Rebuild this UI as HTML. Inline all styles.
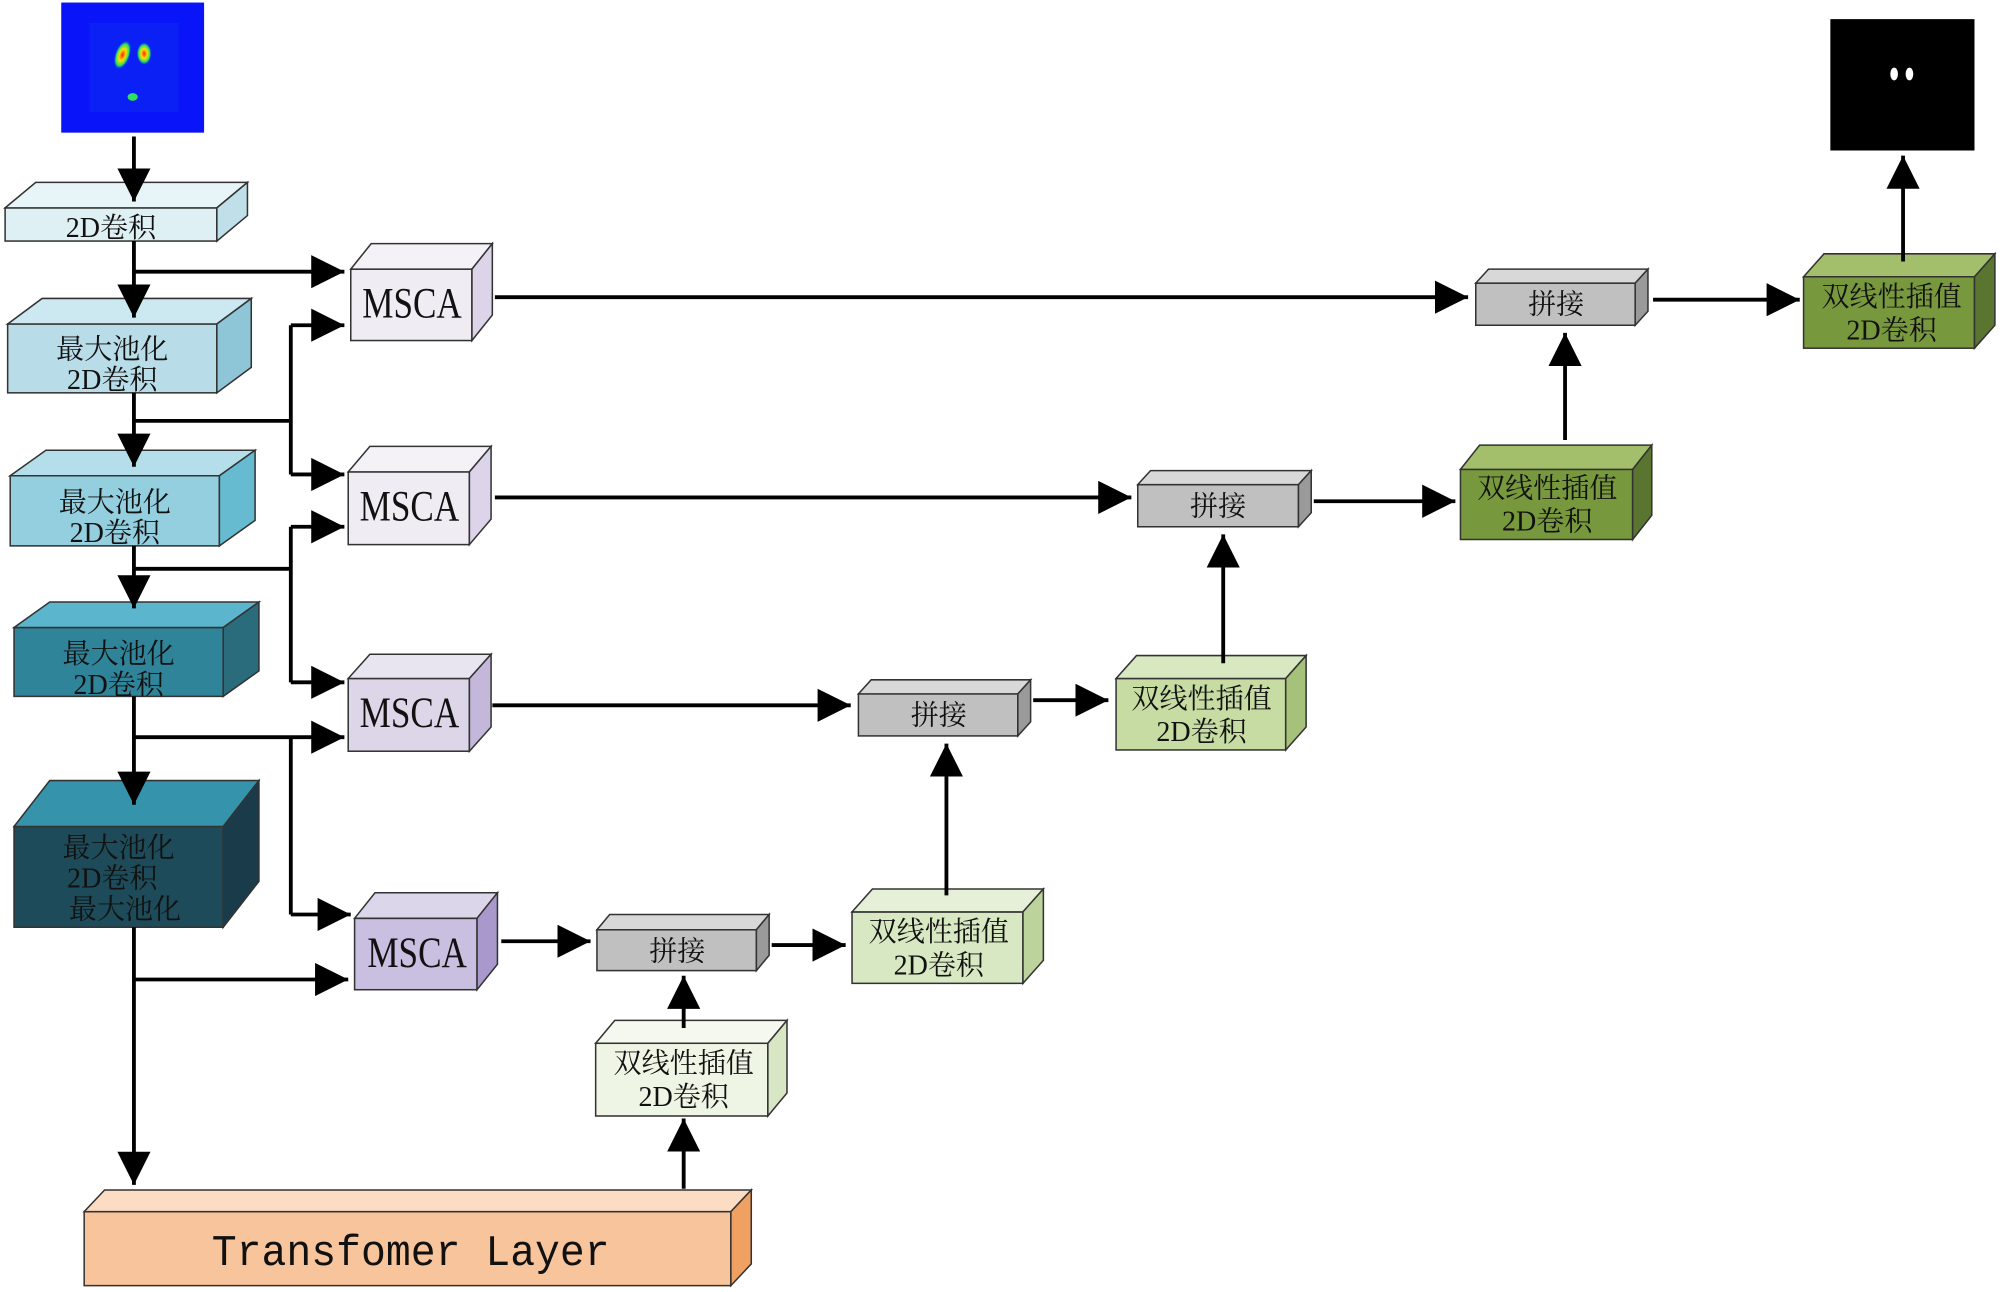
<!DOCTYPE html>
<html><head><meta charset="utf-8"><style>
html,body{margin:0;padding:0;background:#fff}
svg{display:block}
.cn{font-family:"Liberation Serif","Noto Serif CJK SC",serif;font-size:22px;fill:#111;text-anchor:middle}
.ms{font-family:"Liberation Serif",serif;font-size:34px;fill:#111;text-anchor:middle}
.b{stroke:#333;stroke-width:1.2}
.l{stroke:#000;stroke-width:3;fill:none}
</style></head><body>
<svg width="2000" height="1292" viewBox="0 0 1568 1013" preserveAspectRatio="none" xmlns="http://www.w3.org/2000/svg">
<defs>
<marker id="a" markerUnits="userSpaceOnUse" markerWidth="26" markerHeight="26" viewBox="0 0 24 24" refX="24" refY="12" orient="auto"><path d="M0,0 L24,12 L0,24 Z" fill="#000"/></marker>
<radialGradient id="g" cx="50%" cy="50%" r="50%"><stop offset="0" stop-color="#ff2000"/><stop offset="0.4" stop-color="#ffe000"/><stop offset="0.75" stop-color="#20e060"/><stop offset="1" stop-color="#1030ff" stop-opacity="0"/></radialGradient>
</defs>
<rect width="1568" height="1013" fill="#fff"/>
<!-- input image -->
<rect x="48" y="2" width="112" height="102" fill="#0a14f8"/>
<rect x="70" y="18" width="70" height="70" fill="#0b20f4"/>
<ellipse cx="96" cy="43" rx="6" ry="12" fill="url(#g)" transform="rotate(20 96 43)"/>
<ellipse cx="113" cy="42" rx="6" ry="9" fill="url(#g)"/>
<ellipse cx="104" cy="76" rx="4" ry="3" fill="#30e060"/>
<!-- output -->
<rect x="1435" y="15" width="113" height="103" fill="#000"/>
<ellipse cx="1485" cy="58" rx="3" ry="5" fill="#fff"/>
<ellipse cx="1497" cy="58" rx="3" ry="5" fill="#fff"/>

<!-- encoder boxes -->
<g class="b">
<rect x="4" y="163" width="166" height="26" fill="#dff0f4"/>
<polygon points="4,163 28,143 194,143 170,163" fill="#e8f5f8"/>
<polygon points="170,163 194,143 194,169 170,189" fill="#bfe0e8"/>

<rect x="6" y="254" width="164" height="54" fill="#b8dce8"/>
<polygon points="6,254 33,234 197,234 170,254" fill="#cce8f0"/>
<polygon points="170,254 197,234 197,288 170,308" fill="#8ec6d8"/>

<rect x="8" y="373" width="164" height="55" fill="#94cfe0"/>
<polygon points="8,373 36,353 200,353 172,373" fill="#b4dfea"/>
<polygon points="172,373 200,353 200,408 172,428" fill="#66bbd0"/>

<rect x="11" y="492" width="164" height="54" fill="#2f8499"/>
<polygon points="11,492 39,472 203,472 175,492" fill="#5bb5cc"/>
<polygon points="175,492 203,472 203,526 175,546" fill="#2a6c7c"/>

<rect x="11" y="648" width="164" height="79" fill="#1e4b5a"/>
<polygon points="11,648 39,612 203,612 175,648" fill="#3594ab"/>
<polygon points="175,648 203,612 203,691 175,727" fill="#1a3c4a"/>

<!-- MSCA -->
<rect x="275" y="211" width="95" height="56" fill="#efecf3"/>
<polygon points="275,211 291,191 386,191 370,211" fill="#f4f2f7"/>
<polygon points="370,211 386,191 386,247 370,267" fill="#dcd4e8"/>

<rect x="273" y="370" width="95" height="57" fill="#efecf3"/>
<polygon points="273,370 290,350 385,350 368,370" fill="#f4f2f7"/>
<polygon points="368,370 385,350 385,407 368,427" fill="#dcd4e8"/>

<rect x="273" y="532" width="95" height="57" fill="#ddd6e8"/>
<polygon points="273,532 290,513 385,513 368,532" fill="#e8e4f0"/>
<polygon points="368,532 385,513 385,570 368,589" fill="#c3b8da"/>

<rect x="278" y="720" width="96" height="56" fill="#c9bfe0"/>
<polygon points="278,720 294,700 390,700 374,720" fill="#dcd6ea"/>
<polygon points="374,720 390,700 390,756 374,776" fill="#a898cc"/>

<!-- concat -->
<rect x="468" y="729" width="125" height="32" fill="#c0c0c0"/>
<polygon points="468,729 478,717 603,717 593,729" fill="#d8d8d8"/>
<polygon points="593,729 603,717 603,749 593,761" fill="#9a9a9a"/>

<rect x="673" y="544" width="125" height="33" fill="#c0c0c0"/>
<polygon points="673,544 683,533 808,533 798,544" fill="#d8d8d8"/>
<polygon points="798,544 808,533 808,566 798,577" fill="#9a9a9a"/>

<rect x="892" y="380" width="126" height="33" fill="#c0c0c0"/>
<polygon points="892,380 902,369 1028,369 1018,380" fill="#d8d8d8"/>
<polygon points="1018,380 1028,369 1028,402 1018,413" fill="#9a9a9a"/>

<rect x="1157" y="222" width="125" height="33" fill="#c0c0c0"/>
<polygon points="1157,222 1167,211 1292,211 1282,222" fill="#d8d8d8"/>
<polygon points="1282,222 1292,211 1292,244 1282,255" fill="#9a9a9a"/>

<!-- interp -->
<rect x="467" y="818" width="135" height="57" fill="#eef5e5"/>
<polygon points="467,818 482,800 617,800 602,818" fill="#f4f8ee"/>
<polygon points="602,818 617,800 617,857 602,875" fill="#d8e6c4"/>

<rect x="668" y="715" width="134" height="56" fill="#d8e8c2"/>
<polygon points="668,715 684,697 818,697 802,715" fill="#e6f0d8"/>
<polygon points="802,715 818,697 818,753 802,771" fill="#bcd49c"/>

<rect x="875" y="532" width="133" height="56" fill="#c6dca2"/>
<polygon points="875,532 891,514 1024,514 1008,532" fill="#d8e8c0"/>
<polygon points="1008,532 1024,514 1024,570 1008,588" fill="#a6c27a"/>

<rect x="1145" y="368" width="135" height="55" fill="#78983e"/>
<polygon points="1145,368 1160,349 1295,349 1280,368" fill="#a4bf6c"/>
<polygon points="1280,368 1295,349 1295,404 1280,423" fill="#5a7530"/>

<rect x="1414" y="217" width="134" height="56" fill="#78983e"/>
<polygon points="1414,217 1430,199 1564,199 1548,217" fill="#a4bf6c"/>
<polygon points="1548,217 1564,199 1564,255 1548,273" fill="#5a7530"/>

<!-- transformer -->
<rect x="66" y="950" width="507" height="58" fill="#f8c49c"/>
<polygon points="66,950 82,933 589,933 573,950" fill="#fcdcc2"/>
<polygon points="573,950 589,933 589,991 573,1008" fill="#f0a060"/>
</g>

<!-- connectors -->
<g class="l">
<line x1="105" y1="107" x2="105" y2="158" marker-end="url(#a)"/>
<line x1="105" y1="189" x2="105" y2="249" marker-end="url(#a)"/>
<line x1="105" y1="213" x2="270" y2="213" marker-end="url(#a)"/>
<line x1="105" y1="308" x2="105" y2="366" marker-end="url(#a)"/>
<polyline points="105,330 228,330"/>
<polyline points="228,255 228,372"/>
<line x1="228" y1="255" x2="270" y2="255" marker-end="url(#a)"/>
<line x1="228" y1="372" x2="270" y2="372" marker-end="url(#a)"/>
<line x1="105" y1="428" x2="105" y2="477" marker-end="url(#a)"/>
<polyline points="105,446 228,446"/>
<polyline points="228,413 228,535"/>
<line x1="228" y1="413" x2="270" y2="413" marker-end="url(#a)"/>
<line x1="228" y1="535" x2="270" y2="535" marker-end="url(#a)"/>
<line x1="105" y1="546" x2="105" y2="631" marker-end="url(#a)"/>
<line x1="105" y1="578" x2="270" y2="578" marker-end="url(#a)"/>
<polyline points="228,578 228,717"/>
<line x1="228" y1="717" x2="275" y2="717" marker-end="url(#a)"/>
<line x1="105" y1="727" x2="105" y2="929" marker-end="url(#a)"/>
<line x1="105" y1="768" x2="273" y2="768" marker-end="url(#a)"/>
<line x1="388" y1="233" x2="1151" y2="233" marker-end="url(#a)"/>
<line x1="388" y1="390" x2="887" y2="390" marker-end="url(#a)"/>
<line x1="386" y1="553" x2="667" y2="553" marker-end="url(#a)"/>
<line x1="393" y1="738" x2="463" y2="738" marker-end="url(#a)"/>
<line x1="605" y1="741" x2="663" y2="741" marker-end="url(#a)"/>
<line x1="536" y1="806" x2="536" y2="765" marker-end="url(#a)"/>
<line x1="536" y1="932" x2="536" y2="877" marker-end="url(#a)"/>
<line x1="742" y1="702" x2="742" y2="583" marker-end="url(#a)"/>
<line x1="810" y1="549" x2="869" y2="549" marker-end="url(#a)"/>
<line x1="959" y1="520" x2="959" y2="419" marker-end="url(#a)"/>
<line x1="1030" y1="393" x2="1141" y2="393" marker-end="url(#a)"/>
<line x1="1227" y1="345" x2="1227" y2="261" marker-end="url(#a)"/>
<line x1="1296" y1="235" x2="1411" y2="235" marker-end="url(#a)"/>
<line x1="1492" y1="205" x2="1492" y2="122" marker-end="url(#a)"/>
</g>

<!-- text -->
<text class="cn" x="87" y="186">2D卷积</text>
<text class="cn" x="88" y="281">最大池化</text>
<text class="cn" x="88" y="305">2D卷积</text>
<text class="cn" x="90" y="401">最大池化</text>
<text class="cn" x="90" y="425">2D卷积</text>
<text class="cn" x="93" y="520">最大池化</text>
<text class="cn" x="93" y="544">2D卷积</text>
<text class="cn" x="93" y="672">最大池化</text>
<text class="cn" x="88" y="696">2D卷积</text>
<text class="cn" x="98" y="720">最大池化</text>

<text class="ms" x="323" y="249" textLength="78" lengthAdjust="spacingAndGlyphs">MSCA</text>
<text class="ms" x="321" y="408" textLength="78" lengthAdjust="spacingAndGlyphs">MSCA</text>
<text class="ms" x="321" y="570" textLength="78" lengthAdjust="spacingAndGlyphs">MSCA</text>
<text class="ms" x="327" y="758" textLength="78" lengthAdjust="spacingAndGlyphs">MSCA</text>

<text class="cn" x="531" y="753">拼接</text>
<text class="cn" x="736" y="568">拼接</text>
<text class="cn" x="955" y="404">拼接</text>
<text class="cn" x="1220" y="246">拼接</text>

<text class="cn" x="536" y="841">双线性插值</text>
<text class="cn" x="536" y="867">2D卷积</text>
<text class="cn" x="736" y="738">双线性插值</text>
<text class="cn" x="736" y="764">2D卷积</text>
<text class="cn" x="942" y="555">双线性插值</text>
<text class="cn" x="942" y="581">2D卷积</text>
<text class="cn" x="1213" y="390">双线性插值</text>
<text class="cn" x="1213" y="416">2D卷积</text>
<text class="cn" x="1483" y="240">双线性插值</text>
<text class="cn" x="1483" y="266">2D卷积</text>

<text x="322" y="992" style="font-family:'Liberation Mono',monospace;font-size:34px;fill:#111;text-anchor:middle" textLength="312" lengthAdjust="spacingAndGlyphs">Transfomer Layer</text>
</svg>
</body></html>
